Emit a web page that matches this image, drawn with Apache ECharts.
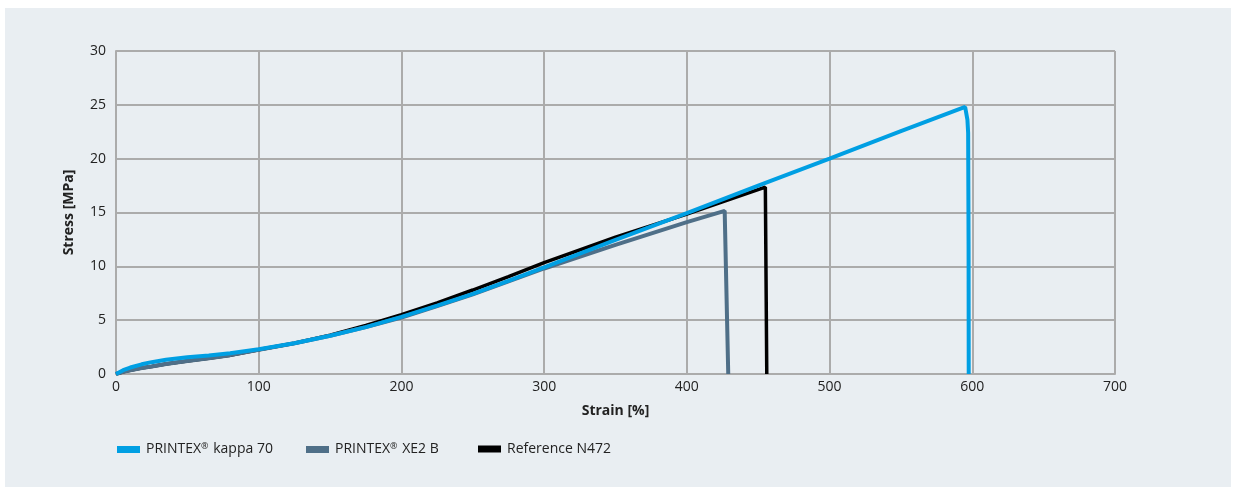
<!DOCTYPE html>
<html>
<head>
<meta charset="utf-8">
<script src="https://cdn.jsdelivr.net/npm/echarts@6/dist/echarts.min.js"></script>
<style>
  html, body { margin: 0; padding: 0; background: #fff; }
  #chart { width: 1235px; height: 487px; }
</style>
</head>
<body>
<div id="chart"></div>
<script>
// strain [%] / stress [MPa]
var kappaStrain = [0, 5, 10, 18, 25, 35, 50, 65, 80, 100, 125, 150, 175, 200, 225, 250, 275, 300, 350, 400, 450, 500, 550, 595, 596.6, 597.1, 597.4, 597.5];
var kappaStress = [0, 0.35, 0.6, 0.9, 1.1, 1.33, 1.55, 1.72, 1.92, 2.3, 2.85, 3.55, 4.35, 5.3, 6.35, 7.45, 8.65, 9.9, 12.45, 14.95, 17.5, 20.0, 22.55, 24.8, 23.6, 22.4, 12, 0];

var xe2Strain = [0, 5, 10, 18, 25, 35, 50, 65, 80, 100, 125, 150, 175, 200, 225, 250, 275, 300, 350, 400, 426.5, 429];
var xe2Stress = [0, 0.2, 0.35, 0.55, 0.7, 0.92, 1.2, 1.45, 1.75, 2.25, 2.85, 3.55, 4.35, 5.25, 6.3, 7.4, 8.6, 9.8, 12.0, 14.1, 15.15, 0];

var refStrain = [0, 5, 10, 18, 25, 35, 50, 65, 80, 100, 125, 150, 175, 200, 225, 250, 275, 300, 350, 400, 455, 456];
var refStress = [0, 0.2, 0.35, 0.55, 0.7, 0.92, 1.2, 1.45, 1.75, 2.25, 2.85, 3.6, 4.5, 5.5, 6.6, 7.8, 9.05, 10.35, 12.7, 14.85, 17.35, 0];

var seriesNames = ['PRINTEX® kappa 70', 'PRINTEX® XE2 B', 'Reference N472'];
var seriesColors = ['#009fe3', '#4f6f88', '#000000'];

var xTicks = { min: 0, max: 700, step: 100 };
var yTicks = { min: 0, max: 30, step: 5 };

function pairs(xs, ys) {
    return xs.map(function (x, i) { return [x, ys[i]]; });
}

var myChart = echarts.init(document.getElementById('chart'));

var fontFamily = '"Open Sans", "Noto Sans", sans-serif';

function legendAt(name, left) {
    return {
        data: [name],
        left: left,
        top: 437,
        icon: 'rect',
        itemWidth: 23,
        itemHeight: 7,
        itemGap: 0,
        formatter: function (n) {
            return n.replace('®', '{sup|®}');
        },
        textStyle: {
            color: '#222', fontSize: 14, fontFamily: fontFamily, padding: [0, 0, 0, 1],
            rich: {
                sup: { fontSize: 9, color: '#222', fontFamily: fontFamily, padding: [0, 1, 6, 0] }
            }
        },
        selectedMode: false
    };
}

var option = {
    animation: false,
    graphic: [{
        type: 'rect',
        z: -10,
        shape: { x: 5, y: 8, width: 1226, height: 479 },
        style: { fill: '#e9eef2' },
        silent: true
    }],
    legend: [
        legendAt(seriesNames[0], 112),
        legendAt(seriesNames[1], 301),
        legendAt(seriesNames[2], 473)
    ],
    grid: { left: 116, top: 51, right: 120, bottom: 113, containLabel: false },
    xAxis: {
        type: 'value',
        min: xTicks.min,
        max: xTicks.max,
        interval: xTicks.step,
        name: 'Strain [%]',
        nameLocation: 'middle',
        nameGap: 30,
        nameTextStyle: { color: '#222', fontWeight: 'bold', fontSize: 14, fontFamily: fontFamily },
        axisLine: { show: true, lineStyle: { color: '#ababab', width: 2 } },
        axisTick: { show: false },
        axisLabel: { color: '#222', fontSize: 14, fontFamily: fontFamily, margin: 6 },
        splitLine: { show: true, lineStyle: { color: '#ababab', width: 2 } }
    },
    yAxis: {
        type: 'value',
        min: yTicks.min,
        max: yTicks.max,
        interval: yTicks.step,
        name: 'Stress [MPa]',
        nameLocation: 'middle',
        nameGap: 40,
        nameTextStyle: { color: '#222', fontWeight: 'bold', fontSize: 14, fontFamily: fontFamily },
        axisLine: { show: true, lineStyle: { color: '#ababab', width: 2 } },
        axisTick: { show: false },
        axisLabel: { color: '#222', fontSize: 14, fontFamily: fontFamily, margin: 10 },
        splitLine: { show: true, lineStyle: { color: '#ababab', width: 2 } }
    },
    series: [
        {
            name: seriesNames[2],
            type: 'line',
            data: pairs(refStrain, refStress),
            showSymbol: false,
            z: 3,
            lineStyle: { color: seriesColors[2], width: 3.5 },
            itemStyle: { color: seriesColors[2] }
        },
        {
            name: seriesNames[1],
            type: 'line',
            data: pairs(xe2Strain, xe2Stress),
            showSymbol: false,
            z: 4,
            lineStyle: { color: seriesColors[1], width: 4 },
            itemStyle: { color: seriesColors[1] }
        },
        {
            name: seriesNames[0],
            type: 'line',
            data: pairs(kappaStrain, kappaStress),
            showSymbol: false,
            z: 5,
            lineStyle: { color: seriesColors[0], width: 4 },
            itemStyle: { color: seriesColors[0] }
        }
    ]
};

myChart.setOption(option);
window.addEventListener('resize', function () {
    myChart.resize();
});
</script>
</body>
</html>
